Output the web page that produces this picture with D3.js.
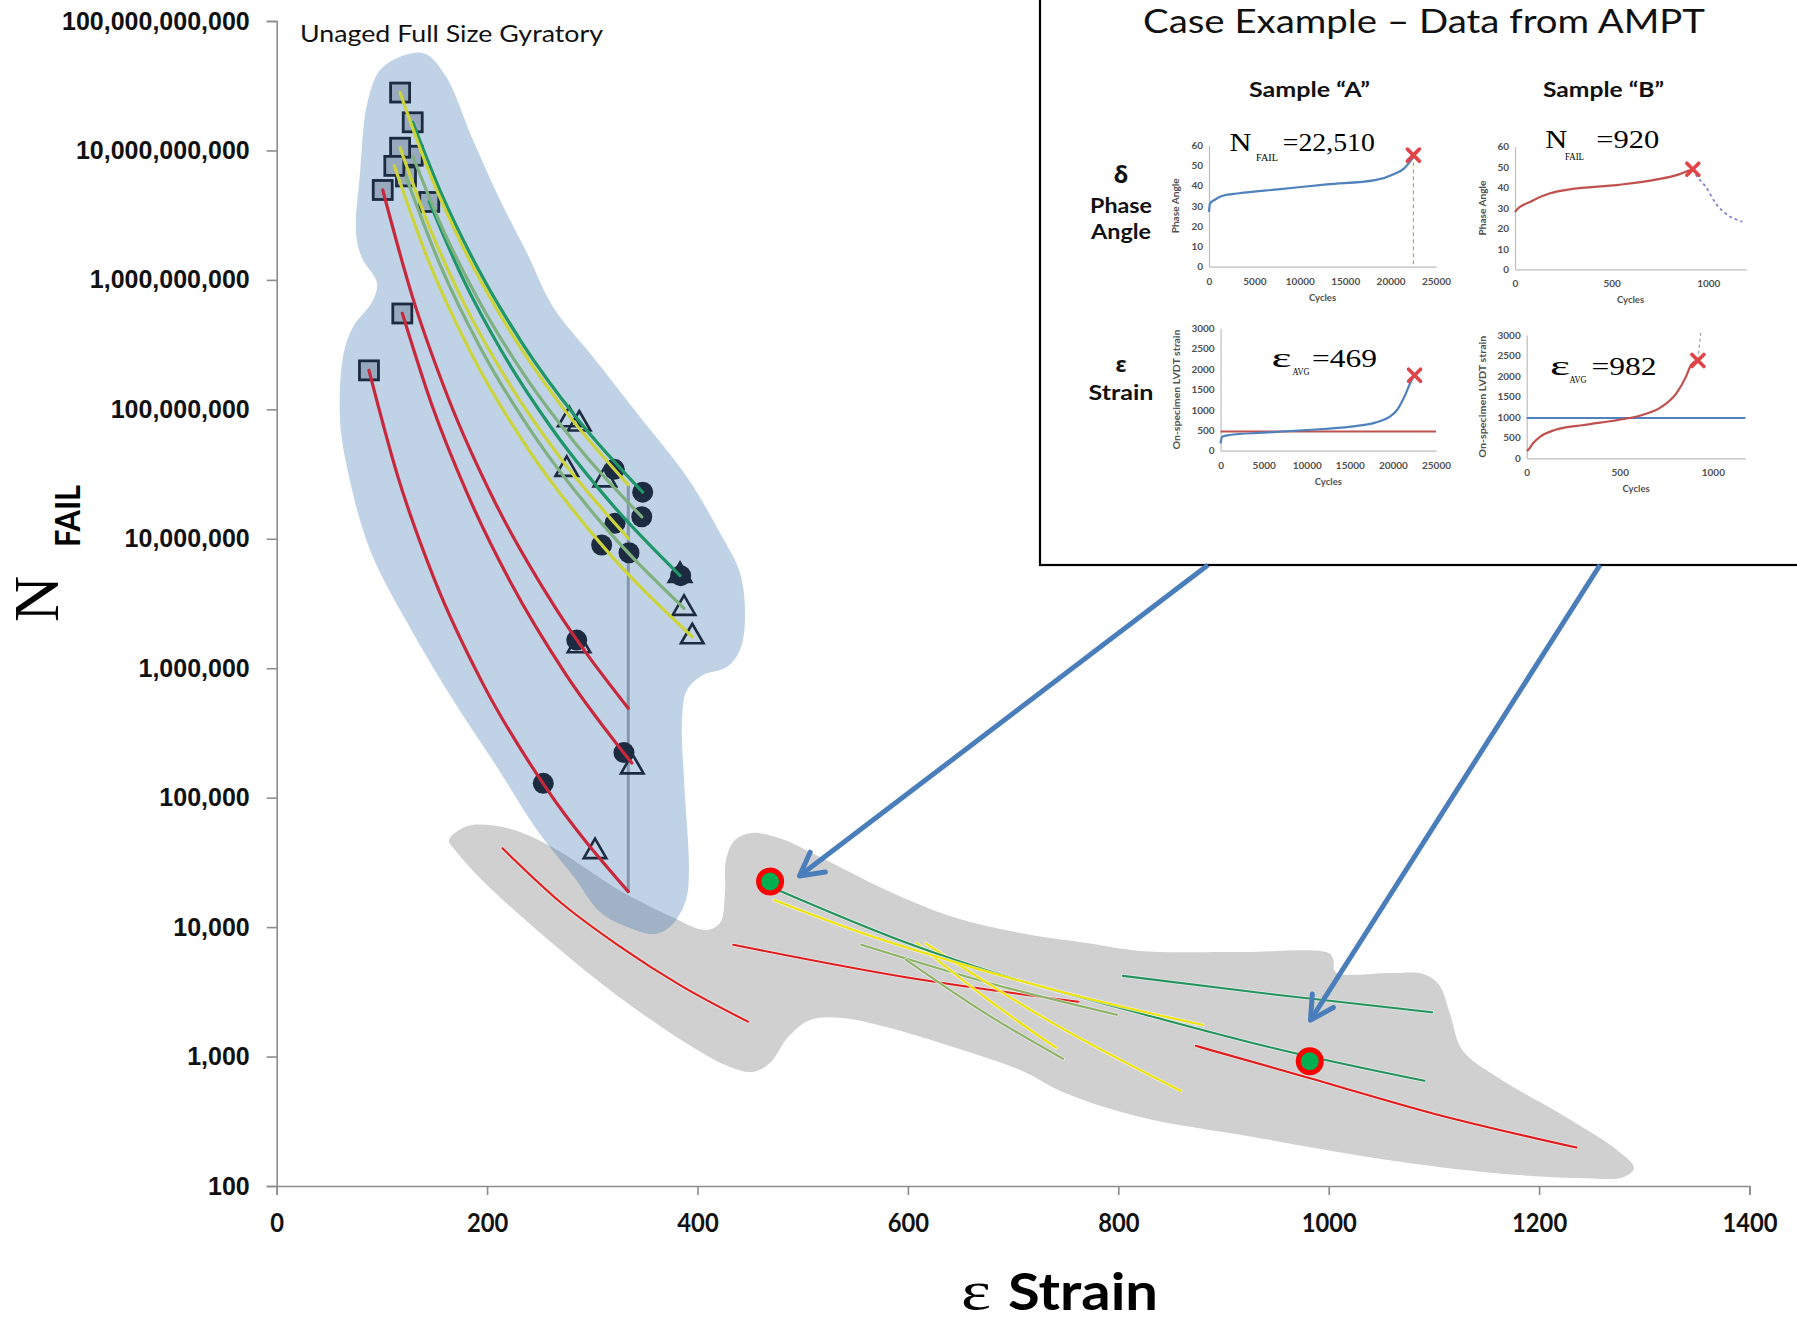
<!DOCTYPE html>
<html>
<head>
<meta charset="utf-8">
<title>N FAIL vs strain</title>
<script src="https://cdn.jsdelivr.net/npm/d3@7/dist/d3.min.js"></script>
<style>
  html, body { margin: 0; padding: 0; background: #ffffff; }
  svg { display: block; }
</style>
</head>
<body>
<svg id="chart" width="1797" height="1323"></svg>
<script>
// ---------------- main chart axes ----------------
const strainTicks = [0, 200, 400, 600, 800, 1000, 1200, 1400];
const cycleTicks = [1e2, 1e3, 1e4, 1e5, 1e6, 1e7, 1e8, 1e9, 1e10, 1e11];

// ---------------- unaged full size gyratory specimens ----------------
// [strain, N] start points (squares)
const startPoints = [[117.3, 2.8e10], [129.3, 1.65e10], [129.3, 9.1e9], [117.3, 1.05e10], [122.9, 6.3e9],
  [111.8, 7.6e9], [100.8, 4.95e9], [145.0, 4.0e9], [119.4, 5.5e8], [87.7, 2.0e8]];
// failure points (filled circles)
const failCircles = [[320.9, 3.44e7], [347.9, 2.29e7], [347.0, 1.48e7], [321.6, 1.32e7], [308.9, 8.95e6],
  [334.9, 7.8e6], [384.0, 5.19e6], [285.2, 1.65e6], [330.1, 2.23e5], [253.4, 1.29e5]];
// failure points (open triangles)
const failTriangles = [[278.2, 8.3e7], [287.6, 7.7e7], [275.7, 3.44e7], [312.0, 2.85e7], [383.4, 5.2e6],
  [387.2, 2.9e6], [395.0, 1.75e6], [287.4, 1.49e6], [338.0, 1.73e5], [302.6, 3.83e4]];

// fatigue curves of the gyratory specimens, [strain, N]
const fitRedA = [[87.7, 2.0e8], [114.6, 3.13e7], [149.7, 4.90e6], [195.7, 7.67e5], [255.7, 1.20e5], [334.2, 1.88e4]];
const fitRedB = [[119.4, 5.52e8], [147.0, 1.11e8], [181.0, 2.25e7], [222.8, 4.53e6], [274.2, 9.14e5], [337.6, 1.85e5]];
const fitRedC = [[100.8, 4.95e9], [128.1, 7.83e8], [162.8, 1.24e8], [206.9, 1.96e7], [263.0, 3.10e6], [334.2, 4.90e5]];
const fitYellowA = [[117.3, 2.79e10], [144.6, 6.92e9], [178.3, 1.71e9], [219.9, 4.25e8], [271.1, 1.05e8], [334.2, 2.61e7]];
const fitGreenA = [[129.3, 1.65e10], [157.6, 4.43e9], [192.1, 1.19e9], [234.1, 3.18e8], [285.4, 8.53e7], [347.9, 2.29e7]];
const fitYellowB = [[117.3, 1.05e10], [144.6, 2.62e9], [178.3, 6.53e8], [219.9, 1.63e8], [271.1, 4.06e7], [334.2, 1.01e7]];
const fitSageA = [[129.3, 9.06e9], [157.5, 2.51e9], [191.9, 6.97e8], [233.7, 1.93e8], [284.7, 5.35e7], [347.0, 1.48e7]];
const fitYellowC = [[111.8, 7.62e9], [143.9, 1.43e9], [185.2, 2.67e8], [238.4, 5.01e7], [306.9, 9.38e6], [395.0, 1.75e6]];
const fitSageB = [[122.9, 6.27e9], [154.6, 1.35e9], [194.5, 2.90e8], [244.7, 6.26e7], [307.8, 1.35e7], [387.2, 2.90e6]];
const fitGreenB = [[145.0, 4.02e9], [176.1, 1.06e9], [213.9, 2.81e8], [259.9, 7.43e7], [315.7, 1.97e7], [383.4, 5.20e6]];

// strain limit of the gyratory set
const strainLimit = 334.2;
const strainLimitCycles = [1.88e4, 2.6e7];

// ---------------- AMPT specimens ----------------
const amptRedA = [[214.6, 4.06e4], [270, 1.55e4], [325, 7.2e3], [385, 3.5e3], [448, 1.86e3]];
const amptRedB = [[434, 7.3e3], [598, 4.1e3], [762, 2.65e3]];
const amptRedC = [[873.6, 1.21e3], [982.3, 680], [1100, 362], [1235.6, 198]];
const amptGreenA = [[469.3, 2.05e4], [600, 7.5e3], [700, 4.0e3], [820.6, 2.16e3], [950, 1.15e3], [1091, 650]];
const amptGreenB = [[804.5, 4.2e3], [950, 3.0e3], [1098.4, 2.2e3]];
const amptYellowA = [[472.6, 1.62e4], [560, 8.8e3], [650, 5.2e3], [750, 3.1e3], [880.8, 1.75e3]];
const amptYellowB = [[608.5, 7.5e3], [675, 2.8e3], [740.8, 1.17e3]];
const amptYellowC = [[616.9, 7.5e3], [740, 1.77e3], [859.6, 542]];
const amptSageA = [[555.8, 7.3e3], [677, 3.7e3], [798.6, 2.1e3]];
const amptSageB = [[598, 5.6e3], [672, 2.2e3], [747.6, 960]];

// case example samples A and B
const sampleNames = ['A', 'B'];
const epsAvg = [469, 982];
const nFail = [22510, 920];

// outlines of the two shaded groups, [strain, log10 N]
const gyratoryZone = [[139.1, 10.753], [160.0, 10.583], [186.6, 10.081], [212.3, 9.617], [237.9, 9.208], [262.7, 8.791],
  [300.7, 8.405], [345.4, 7.941], [390.0, 7.477], [421.4, 7.045], [440.4, 6.736], [445.2, 6.396], [440.4, 6.141],
  [428.1, 6.010], [405.2, 5.948], [390.0, 5.832], [385.3, 5.600], [387.2, 5.137], [391.9, 4.441], [389.0, 4.210],
  [375.7, 4.016], [359.6, 3.947], [335.8, 3.993], [307.3, 4.117], [282.6, 4.387], [247.4, 4.750], [209.4, 5.237],
  [167.6, 5.755], [129.6, 6.272], [88.7, 6.913], [66.8, 7.555], [60.2, 7.918], [63.0, 8.405], [72.5, 8.636],
  [90.6, 8.829], [95.3, 8.976], [81.1, 9.169], [75.4, 9.362], [79.2, 9.826], [86.8, 10.390], [101.0, 10.645]];
const amptZone = [[163.8, 4.673], [181.8, 4.781], [218.9, 4.766], [261.7, 4.619], [325.4, 4.287], [375.8, 4.078],
  [407.1, 3.978], [421.4, 4.032], [426.1, 4.264], [427.1, 4.519], [435.6, 4.673], [451.8, 4.727], [477.5, 4.688],
  [516.5, 4.542], [579.2, 4.287], [642.9, 4.078], [706.6, 3.955], [770.3, 3.877], [820.6, 3.816], [915.7, 3.808],
  [1000.0, 3.800], [1004.5, 3.746], [1006.4, 3.653], [1060.0, 3.646], [1090.0, 3.638], [1105.0, 3.553],
  [1115.0, 3.337], [1127.0, 3.051], [1160.0, 2.842], [1218.9, 2.564], [1274.0, 2.278], [1290.2, 2.139],
  [1280.7, 2.070], [1237.0, 2.062], [1146.7, 2.108], [1037.4, 2.224], [928.2, 2.379], [820.6, 2.533],
  [749.3, 2.718], [706.6, 2.896], [642.9, 3.074], [579.2, 3.228], [537.4, 3.298], [507.0, 3.282], [486.1, 3.151],
  [468.9, 2.950], [451.8, 2.881], [430.9, 2.919], [389.1, 3.105], [325.4, 3.460], [261.7, 3.877], [198.0, 4.341],
  [169.5, 4.596]];

// arrow targets near the two samples, [strain, N]
const arrowTargets = [[496.9, 2.48e4], [982.7, 1.91e3]];

// ---------------- AMPT test records ----------------
const phaseCyclesA = [0, 100, 640, 1500, 3300, 7600, 13000, 18300, 20400, 21500, 22510];
const phaseDegA = [27, 31, 33, 35, 36.2, 38.1, 40.6, 42.7, 45.7, 48.5, 54];
const phaseCyclesB = [0, 5, 80, 181, 282, 534, 735, 836, 899, 920];
const phaseDegB = [28, 28.7, 33.1, 37.2, 39.1, 41.3, 44.0, 46.1, 48.3, 49];
const phaseTailCyclesB = [920, 937, 987, 1038, 1088, 1151, 1176];
const phaseTailDegB = [49, 46.1, 40.4, 32.3, 27.4, 24.1, 23.3];
const strainCyclesA = [0, 170, 1016, 4966, 10045, 15124, 17946, 19639, 20485, 21331, 22178, 22510];
const strainValsA = [180, 343, 384, 441, 507, 589, 687, 834, 997, 1324, 1733, 1850];
const strainCyclesB = [0, 8, 34, 73, 151, 308, 491, 621, 726, 804, 856, 883, 920];
const strainValsB = [180, 203, 365, 527, 689, 811, 932, 1054, 1257, 1581, 1987, 2271, 2400];
const strainTailCyclesB = [920, 935];
const strainTailValsB = [2400, 3050];
const phaseFailDeg = [55, 49];
const strainFailVals = [1850, 2380];

// ================= drawing =================
const svg = d3.select('#chart');
const x = d3.scaleLinear().domain([0, 1400]).range([276.7, 1749.5]);
const y = d3.scaleLog().domain([100, 1e11]).range([1186, 21]);

const COL = {
  red: '#c8283c', yellow: '#cdd43a', green: '#1e9668', sage: '#7fb07f',
  fRed: '#e21b1b', fYellow: '#efe400', fGreen: '#23955c', fSage: '#8db466',
  navy: '#1c2b40'
};

const zonePath = d3.line()
  .x(d => x(d[0]))
  .y(d => y(Math.pow(10, d[1])))
  .curve(d3.curveCatmullRomClosed.alpha(0.5));
const curvePath = d3.line().x(d => x(d[0])).y(d => y(d[1])).curve(d3.curveMonotoneX);

// AMPT group
svg.append('path').attr('d', zonePath(amptZone)).attr('fill', '#d0d0d0');
const amptLines = [
  [amptRedA, COL.fRed], [amptRedB, COL.fRed], [amptRedC, COL.fRed],
  [amptSageA, COL.fSage], [amptSageB, COL.fSage],
  [amptYellowB, COL.fYellow], [amptYellowC, COL.fYellow],
  [amptGreenA, COL.fGreen], [amptYellowA, COL.fYellow], [amptGreenB, COL.fGreen]
];
const amptG = svg.append('g').attr('fill', 'none').attr('stroke-linecap', 'round');
amptLines.forEach(([pts, c]) => {
  amptG.append('path').attr('d', curvePath(pts)).attr('stroke', '#f4f4f4').attr('stroke-width', 3.6).attr('opacity', 0.7);
  amptG.append('path').attr('d', curvePath(pts)).attr('stroke', c).attr('stroke-width', 2.1);
});

// gyratory group
svg.append('path').attr('d', zonePath(gyratoryZone)).attr('fill', '#3a72b1').attr('fill-opacity', 0.32);

svg.append('line')
  .attr('x1', x(strainLimit)).attr('x2', x(strainLimit))
  .attr('y1', y(strainLimitCycles[1])).attr('y2', y(strainLimitCycles[0]))
  .attr('stroke', '#8497af').attr('stroke-width', 3);

svg.append('g').selectAll('rect').data(startPoints).join('rect')
  .attr('x', d => x(d[0]) - 9.5).attr('y', d => y(d[1]) - 9.5)
  .attr('width', 19).attr('height', 19)
  .attr('fill', '#97a9bf').attr('stroke', COL.navy).attr('stroke-width', 2.8);

svg.append('g').selectAll('circle').data(failCircles).join('circle')
  .attr('cx', d => x(d[0])).attr('cy', d => y(d[1])).attr('r', 10.5)
  .attr('fill', COL.navy);

const tri = d3.symbol(d3.symbolTriangle, 220);
svg.append('g').selectAll('path').data(failTriangles).join('path')
  .attr('d', tri).attr('transform', d => `translate(${x(d[0])},${y(d[1])})`)
  .attr('fill', 'none').attr('stroke', COL.navy).attr('stroke-width', 2.6);

const fitLines = [
  [fitRedA, COL.red], [fitRedB, COL.red], [fitRedC, COL.red],
  [fitYellowC, COL.yellow], [fitSageB, COL.sage], [fitYellowB, COL.yellow], [fitGreenB, COL.green],
  [fitSageA, COL.sage], [fitGreenA, COL.green], [fitYellowA, COL.yellow]
];
const fitG = svg.append('g').attr('fill', 'none').attr('stroke-linecap', 'round');
fitLines.forEach(([pts, c]) => {
  fitG.append('path').attr('d', curvePath(pts)).attr('stroke', c).attr('stroke-width', 3.2);
});

// sample dots
svg.append('g').selectAll('circle').data(sampleNames).join('circle')
  .attr('cx', (d, i) => x(epsAvg[i])).attr('cy', (d, i) => y(nFail[i])).attr('r', 11.5)
  .attr('fill', '#00b050').attr('stroke', '#ff0000').attr('stroke-width', 5);

// axes
const yAxis = d3.axisLeft(y).tickValues(cycleTicks).tickFormat(d3.format(',')).tickSize(10).tickPadding(17);
const yg = svg.append('g').attr('transform', `translate(${x(0)},0)`).call(yAxis);
yg.selectAll('path, line').attr('stroke', '#8c8c8c').attr('stroke-width', 1.6);
yg.selectAll('text').attr('font-family', 'Liberation Sans, Arial, sans-serif').attr('font-weight', 'bold')
  .attr('font-size', 25).attr('fill', '#111');

const xAxis = d3.axisBottom(x).tickValues(strainTicks).tickFormat(d3.format('d')).tickSize(9).tickPadding(18);
const xg = svg.append('g').attr('transform', `translate(0,${y(100)})`).call(xAxis);
xg.selectAll('path, line').attr('stroke', '#8c8c8c').attr('stroke-width', 1.6);
xg.selectAll('text').attr('font-family', 'Lato, sans-serif').attr('font-weight', 'bold')
  .attr('font-size', 27).attr('fill', '#111').attr('transform', 'scale(0.88,1)');

// axis titles
const yt = svg.append('g').attr('transform', 'translate(58,622) rotate(-90)');
yt.append('text').text('N').attr('font-family', 'Liberation Serif, Times New Roman, serif').attr('font-size', 64).attr('fill', '#000');
yt.append('text').text('FAIL').attr('x', 75).attr('y', 22)
  .attr('font-family', 'Lato, sans-serif').attr('font-weight', 'bold').attr('font-size', 35)
  .attr('textLength', 62).attr('lengthAdjust', 'spacingAndGlyphs').attr('fill', '#000');

svg.append('text').text('ε').attr('x', 961).attr('y', 1309)
  .attr('font-family', 'Liberation Serif, Times New Roman, serif').attr('font-size', 54).attr('fill', '#000')
  .attr('textLength', 30).attr('lengthAdjust', 'spacingAndGlyphs');
svg.append('text').text('Strain').attr('x', 1008).attr('y', 1310)
  .attr('font-family', 'Lato, sans-serif').attr('font-weight', 'bold').attr('font-size', 52).attr('fill', '#000')
  .attr('textLength', 150).attr('lengthAdjust', 'spacingAndGlyphs');

svg.append('text').text('Unaged Full Size Gyratory').attr('x', 300).attr('y', 42)
  .attr('font-family', 'Lato, sans-serif').attr('font-size', 23).attr('fill', '#111')
  .attr('textLength', 303).attr('lengthAdjust', 'spacingAndGlyphs');

// ================= case example panel =================
const inset = svg.append('g');
inset.append('rect').attr('x', 1040).attr('y', -4).attr('width', 770).attr('height', 569)
  .attr('fill', '#fff').attr('stroke', '#000').attr('stroke-width', 2.2);

inset.append('text').text('Case Example – Data from AMPT').attr('x', 1424).attr('y', 32.5)
  .attr('text-anchor', 'middle').attr('font-family', 'Lato, sans-serif').attr('font-size', 32).attr('fill', '#111')
  .attr('textLength', 562).attr('lengthAdjust', 'spacingAndGlyphs');

const boldLbl = (t, cx, by, size, len) => {
  const el = inset.append('text').text(t).attr('x', cx).attr('y', by).attr('text-anchor', 'middle')
    .attr('font-family', 'Lato, Noto Sans, sans-serif').attr('font-weight', 'bold').attr('font-size', size).attr('fill', '#111');
  if (len) el.attr('textLength', len).attr('lengthAdjust', 'spacingAndGlyphs');
  return el;
};
boldLbl(`Sample “${sampleNames[0]}”`, 1309.5, 96.7, 21, 121);
boldLbl(`Sample “${sampleNames[1]}”`, 1603.5, 96.7, 21, 121);
boldLbl('δ', 1121, 183, 24).attr('font-family', 'Noto Sans, DejaVu Sans, sans-serif');
boldLbl('Phase', 1121, 213.3, 21, 62);
boldLbl('Angle', 1121, 238.5, 21, 60);
boldLbl('ε', 1121, 371.7, 22).attr('font-family', 'Noto Sans, DejaVu Sans, sans-serif');
boldLbl('Strain', 1121, 400, 21, 65);

function miniChart(cfg) {
  const xs = d3.scaleLinear().domain(cfg.xDomain).range(cfg.xRange);
  const ys = d3.scaleLinear().domain(cfg.yDomain).range(cfg.yRange);
  const g = inset.append('g');
  const ya = g.append('g').attr('transform', `translate(${cfg.xRange[0]},0)`)
    .call(d3.axisLeft(ys).tickValues(cfg.yTicks).tickFormat(d3.format('d')).tickSize(0).tickPadding(6));
  const xa = g.append('g').attr('transform', `translate(0,${cfg.yRange[0]})`)
    .call(d3.axisBottom(xs).tickValues(cfg.xTicks).tickFormat(d3.format('d')).tickSize(0).tickPadding(11));
  [ya, xa].forEach(a => {
    a.select('.domain').attr('stroke', '#bdbdbd').attr('stroke-width', 1.2);
    a.selectAll('text').attr('font-family', 'Lato, sans-serif').attr('font-weight', 'bold')
      .attr('font-size', 10).attr('fill', '#505050');
  });
  const cx = (cfg.xRange[0] + cfg.xRange[1]) / 2;
  g.append('text').text('Cycles').attr('x', cx).attr('y', cfg.yRange[0] + 34).attr('text-anchor', 'middle')
    .attr('font-family', 'Lato, sans-serif').attr('font-weight', 'bold').attr('font-size', 9.5).attr('fill', '#505050');
  g.append('text').text(cfg.yTitle)
    .attr('transform', `translate(${cfg.yTitleX},${(cfg.yRange[0] + cfg.yRange[1]) / 2}) rotate(-90)`)
    .attr('text-anchor', 'middle').attr('font-family', 'Lato, sans-serif').attr('font-weight', 'bold')
    .attr('font-size', 9).attr('fill', '#505050')
    .attr('textLength', cfg.yTitleLen).attr('lengthAdjust', 'spacingAndGlyphs');
  const line = d3.line().x(d => xs(d[0])).y(d => ys(d[1])).curve(d3.curveMonotoneX);
  const cross = (cxv, cyv) => {
    g.append('path').attr('d', 'M-6,-6L6,6M-6,6L6,-6')
      .attr('transform', `translate(${xs(cxv)},${ys(cyv)})`)
      .attr('stroke', '#e04448').attr('stroke-width', 3.6).attr('stroke-linecap', 'round');
  };
  return { g, xs, ys, line, cross };
}

const zip = (a, b) => a.map((v, i) => [v, b[i]]);
const thousand = d3.format(',');

const serif = 'Liberation Serif, Times New Roman, serif';
function fancyLabel(parts) {
  parts.forEach(p => {
    inset.append('text').text(p.t).attr('x', p.x).attr('y', p.y)
      .attr('font-family', serif).attr('font-size', p.s).attr('fill', '#000')
      .attr('textLength', p.w).attr('lengthAdjust', 'spacingAndGlyphs');
  });
}

// phase angle, sample A
const pA = miniChart({ xDomain: [0, 25000], xRange: [1209, 1436], yDomain: [0, 60], yRange: [266.7, 145],
  xTicks: d3.range(0, 25001, 5000), yTicks: d3.range(0, 61, 10), yTitle: 'Phase Angle', yTitleX: 1179, yTitleLen: 55 });
pA.g.append('line').attr('x1', pA.xs(nFail[0])).attr('x2', pA.xs(nFail[0]))
  .attr('y1', pA.ys(phaseFailDeg[0])).attr('y2', pA.ys(0))
  .attr('stroke', '#9bbb59').attr('stroke-width', 1.2).attr('stroke-dasharray', '4,3');
pA.g.append('path').attr('d', pA.line(zip(phaseCyclesA, phaseDegA))).attr('fill', 'none')
  .attr('stroke', '#4f81bd').attr('stroke-width', 2.2);
pA.cross(nFail[0], phaseFailDeg[0]);

// phase angle, sample B
const pB = miniChart({ xDomain: [0, 1195], xRange: [1515, 1746], yDomain: [0, 60], yRange: [269.3, 146.7],
  xTicks: [0, 500, 1000], yTicks: d3.range(0, 61, 10), yTitle: 'Phase Angle', yTitleX: 1486, yTitleLen: 55 });
pB.g.append('path').attr('d', pB.line(zip(phaseTailCyclesB, phaseTailDegB))).attr('fill', 'none')
  .attr('stroke', '#8585cc').attr('stroke-width', 1.8).attr('stroke-dasharray', '3,3');
pB.g.append('path').attr('d', pB.line(zip(phaseCyclesB, phaseDegB))).attr('fill', 'none')
  .attr('stroke', '#c0504d').attr('stroke-width', 2.2);
pB.cross(nFail[1], phaseFailDeg[1]);

// strain, sample A
const sA = miniChart({ xDomain: [0, 25000], xRange: [1220.6, 1436], yDomain: [0, 3000], yRange: [450.7, 328.3],
  xTicks: d3.range(0, 25001, 5000), yTicks: d3.range(0, 3001, 500), yTitle: 'On-specimen LVDT strain', yTitleX: 1180, yTitleLen: 120 });
sA.g.append('line').attr('x1', sA.xs(0)).attr('x2', sA.xs(25000)).attr('y1', sA.ys(epsAvg[0])).attr('y2', sA.ys(epsAvg[0]))
  .attr('stroke', '#c0504d').attr('stroke-width', 2);
sA.g.append('path').attr('d', sA.line(zip(strainCyclesA, strainValsA))).attr('fill', 'none')
  .attr('stroke', '#4f81bd').attr('stroke-width', 2.2);
sA.cross(nFail[0], strainFailVals[0]);

// strain, sample B
const sB = miniChart({ xDomain: [0, 1175], xRange: [1526.7, 1745.4], yDomain: [0, 3000], yRange: [458.3, 335],
  xTicks: [0, 500, 1000], yTicks: d3.range(0, 3001, 500), yTitle: 'On-specimen LVDT strain', yTitleX: 1486, yTitleLen: 122 });
sB.g.append('line').attr('x1', sB.xs(0)).attr('x2', sB.xs(1175)).attr('y1', sB.ys(epsAvg[1])).attr('y2', sB.ys(epsAvg[1]))
  .attr('stroke', '#4f81bd').attr('stroke-width', 2);
sB.g.append('path').attr('d', sB.line(zip(strainTailCyclesB, strainTailValsB))).attr('fill', 'none')
  .attr('stroke', '#9a9a9a').attr('stroke-width', 1.2).attr('stroke-dasharray', '3,3');
sB.g.append('path').attr('d', sB.line(zip(strainCyclesB, strainValsB))).attr('fill', 'none')
  .attr('stroke', '#c0504d').attr('stroke-width', 2.2);
sB.cross(nFail[1], strainFailVals[1]);

// value call-outs
fancyLabel([
  { t: 'N', x: 1229.4, y: 151, s: 25, w: 22 },
  { t: 'FAIL', x: 1256, y: 161, s: 11, w: 22 },
  { t: '=' + thousand(nFail[0]), x: 1282.8, y: 151, s: 26, w: 92 },
  { t: 'N', x: 1545.2, y: 148.3, s: 25, w: 22 },
  { t: 'FAIL', x: 1565, y: 159.5, s: 11, w: 19 },
  { t: '=' + thousand(nFail[1]), x: 1596.2, y: 148.3, s: 26, w: 63 },
  { t: 'ε', x: 1271.6, y: 366.7, s: 27, w: 20 },
  { t: 'AVG', x: 1292.5, y: 375, s: 11, w: 17 },
  { t: '=' + epsAvg[0], x: 1312, y: 366.7, s: 26, w: 65 },
  { t: 'ε', x: 1550, y: 375, s: 27, w: 20 },
  { t: 'AVG', x: 1569.5, y: 383.3, s: 11, w: 17 },
  { t: '=' + epsAvg[1], x: 1591.4, y: 375, s: 26, w: 65 }
]);

// ================= arrows from the panel to the samples =================
const defs = svg.append('defs');
defs.append('marker').attr('id', 'openHead').attr('markerUnits', 'userSpaceOnUse')
  .attr('viewBox', '-30 -18 34 36').attr('refX', 0).attr('refY', 0)
  .attr('markerWidth', 34).attr('markerHeight', 36).attr('orient', 'auto')
  .append('path').attr('d', 'M-23,-12.5L0,0L-23,12.5')
  .attr('fill', 'none').attr('stroke', '#4a7ebb').attr('stroke-width', 5)
  .attr('stroke-linecap', 'round').attr('stroke-linejoin', 'round');

const arrowStarts = [[1208, 565], [1600, 565]];
arrowTargets.forEach((t, i) => {
  svg.append('line')
    .attr('x1', arrowStarts[i][0]).attr('y1', arrowStarts[i][1])
    .attr('x2', x(t[0])).attr('y2', y(t[1]))
    .attr('stroke', '#4a7ebb').attr('stroke-width', 5)
    .attr('marker-end', 'url(#openHead)');
});
</script>
</body>
</html>
